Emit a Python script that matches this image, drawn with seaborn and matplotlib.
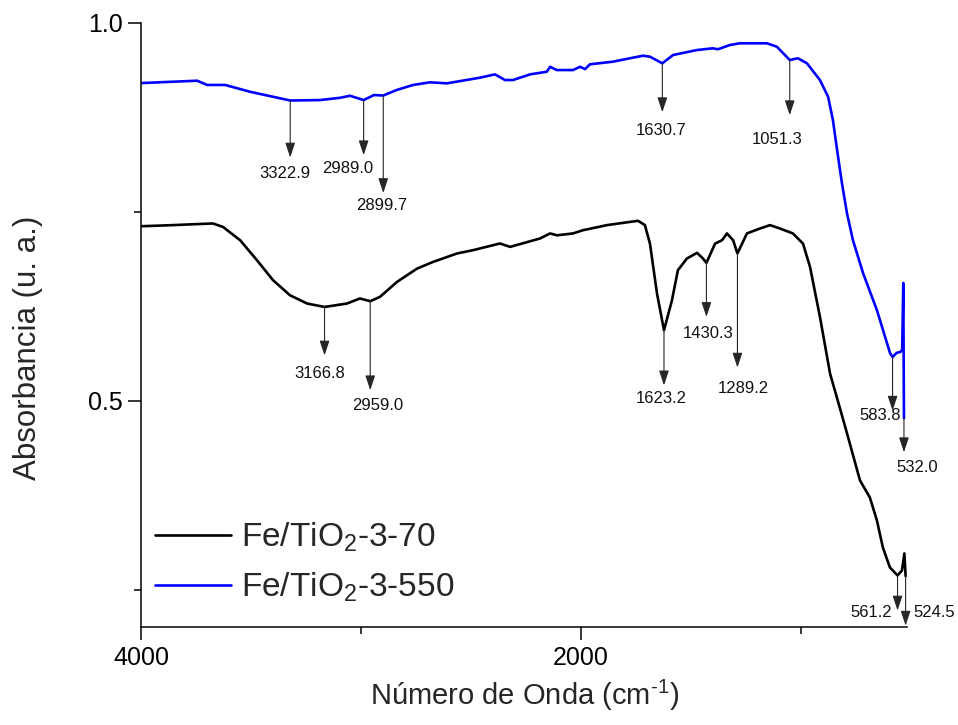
import numpy as np
import pandas as pd
import matplotlib
matplotlib.use("Agg")
import matplotlib.pyplot as plt
from matplotlib.ticker import FixedLocator
import seaborn as sns

# FTIR spectra (wavenumber in cm^-1, absorbance in a.u.)
wn_70 = [4000, 3856, 3674, 3628, 3551, 3474, 3401, 3324, 3246, 3166.8, 3065, 3006,
         2959, 2915, 2837, 2746, 2673, 2564, 2492, 2369, 2323, 2187, 2141, 2110,
         2037, 1991, 1882, 1809, 1741, 1710, 1687, 1655, 1623.2, 1587, 1560, 1519,
         1473, 1446, 1430.3, 1391, 1359, 1337, 1309, 1289.2, 1246, 1187, 1141, 1096,
         1037, 991, 959, 914, 868, 823, 791, 732, 687, 655, 628, 596, 561.2, 541,
         530, 524.5]
abs_70 = [0.731, 0.7325, 0.7347, 0.730, 0.7126, 0.686, 0.6596, 0.6397, 0.6287, 0.6242,
          0.6287, 0.6354, 0.6318, 0.6375, 0.6574, 0.675, 0.6838, 0.695, 0.6993, 0.7082,
          0.7037, 0.7148, 0.7215, 0.719, 0.7215, 0.7258, 0.7325, 0.7355, 0.7382, 0.7325,
          0.708, 0.642, 0.5934, 0.633, 0.6728, 0.6883, 0.6958, 0.6883, 0.6825, 0.708,
          0.7126, 0.7215, 0.7126, 0.695, 0.7215, 0.728, 0.7325, 0.728, 0.7215, 0.708,
          0.677, 0.611, 0.536, 0.49, 0.457, 0.3947, 0.372, 0.3417, 0.306, 0.2795,
          0.2689, 0.2755, 0.298, 0.268]

wn_550 = [4000, 3746, 3701, 3619, 3506, 3356, 3322.9, 3187, 3096, 3051, 2989.0, 2942,
          2899.7, 2839, 2764, 2687, 2611, 2460, 2392, 2346, 2310, 2232, 2156, 2141,
          2111, 2037, 2005, 1982, 1960, 1855, 1778, 1719, 1687, 1630.7, 1582, 1473,
          1401, 1378, 1323, 1278, 1155, 1110, 1051.3, 1014, 973, 914, 877, 855, 836,
          814, 791, 764, 718, 655, 595, 583.8, 565, 548, 540, 535, 532.0]
abs_550 = [0.9205, 0.9236, 0.918, 0.918, 0.909, 0.8995, 0.8974, 0.898, 0.901, 0.9037,
           0.898, 0.9046, 0.9040, 0.9113, 0.918, 0.9215, 0.9201, 0.9276, 0.932, 0.9245,
           0.9245, 0.932, 0.9355, 0.942, 0.9377, 0.9377, 0.942, 0.939, 0.9453, 0.9488,
           0.9533, 0.9567, 0.9554, 0.9466, 0.9576, 0.9642, 0.9665, 0.9652, 0.9709, 0.9731,
           0.9731, 0.9686, 0.951, 0.9533, 0.9466, 0.9245, 0.9024, 0.8715, 0.8318, 0.788,
           0.748, 0.7126, 0.669, 0.620, 0.5629, 0.558, 0.5635, 0.5646, 0.568, 0.656, 0.477]

series_names = ["Fe/TiO$_2$-3-70", "Fe/TiO$_2$-3-550"]
series_colors = ["#000000", "#0000FF"]

# Band positions marked on each spectrum
peaks_70 = [3166.8, 2959.0, 1623.2, 1430.3, 1289.2, 561.2, 524.5]
peaks_550 = [3322.9, 2989.0, 2899.7, 1630.7, 1051.3, 583.8, 532.0]

# Arrow tip height, label anchor (x, y) and horizontal alignment for each band
layout_70 = [(0.560, 3187, 0.536, "center"), (0.514, 2923, 0.494, "center"),
             (0.5205, 1637, 0.503, "center"), (0.611, 1423, 0.589, "center"),
             (0.544, 1264, 0.516, "center"), (0.2225, 586, 0.220, "right"),
             (0.2025, 491, 0.220, "left")]
layout_550 = [(0.822, 3349, 0.801, "center"), (0.825, 3060, 0.808, "center"),
              (0.775, 2905, 0.759, "center"), (0.882, 1638, 0.858, "center"),
              (0.878, 1109, 0.846, "center"), (0.487, 640, 0.481, "center"),
              (0.432, 474, 0.412, "center")]

df = pd.concat([
    pd.DataFrame({"wn": wn_70, "A": abs_70, "amostra": series_names[0]}),
    pd.DataFrame({"wn": wn_550, "A": abs_550, "amostra": series_names[1]}),
], ignore_index=True)

sns.set_theme(style="ticks")
plt.rcParams["font.family"] = ["Liberation Sans", "DejaVu Sans"]
plt.rcParams["mathtext.fontset"] = "custom"
plt.rcParams["mathtext.rm"] = "Liberation Sans"
plt.rcParams["mathtext.default"] = "regular"

fig = plt.figure(figsize=(9.58, 7.25), dpi=100)
ax = fig.add_axes([0.1475, 0.1345, 0.7993, 0.8338])

sns.lineplot(data=df, x="wn", y="A", hue="amostra", hue_order=series_names,
             palette=series_colors, estimator=None, sort=True, linewidth=1.9,
             ax=ax)

ax.set_xlim(4000, 518)
ax.set_ylim(0.2, 1.0)

ax.xaxis.set_major_locator(FixedLocator([4000, 2000]))
ax.xaxis.set_minor_locator(FixedLocator([3000, 1000]))
ax.yaxis.set_major_locator(FixedLocator([0.5, 1.0]))
ax.yaxis.set_minor_locator(FixedLocator([0.25, 0.75]))
ax.set_yticklabels(["0.5", "1.0"])
ax.set_xticklabels(["4000", "2000"])

ax.tick_params(which="major", direction="out", length=9.5, width=1.1,
               labelsize=18, pad=3.5, color="black", labelcolor="black")
ax.tick_params(which="minor", direction="out", length=4.8, width=1.1,
               color="black")
for side in ("left", "bottom"):
    ax.spines[side].set_linewidth(1.1)
    ax.spines[side].set_color("black")
sns.despine(ax=ax, top=True, right=True)

ax.set_xlabel(r"Número de Onda (cm$^{\text{-}1}$)", fontsize=21, labelpad=6)
ax.set_ylabel("Absorbancia (u. a.)", fontsize=22.5)
ax.yaxis.set_label_coords(-0.128, 0.462)


def mark_bands(wn, ab, peaks, layout):
    order = np.argsort(wn)
    xs = np.asarray(wn)[order]
    ys = np.asarray(ab)[order]
    for p, (tip, lx, ly, ha) in zip(peaks, layout):
        y0 = np.interp(p, xs, ys)
        ax.annotate("", xy=(p, tip), xytext=(p, y0),
                    arrowprops=dict(arrowstyle="-|>,head_length=0.9,head_width=0.3",
                                    mutation_scale=10, color="0.15", lw=0.8,
                                    shrinkA=0, shrinkB=0),
                    annotation_clip=False)
        ax.text(lx, ly, f"{p:.1f}", ha=ha, va="center", fontsize=12,
                color="#111111", clip_on=False)


mark_bands(wn_70, abs_70, peaks_70, layout_70)
mark_bands(wn_550, abs_550, peaks_550, layout_550)

leg = ax.legend(loc="lower left", bbox_to_anchor=(0.0, 0.017), frameon=False,
                fontsize=24, handlelength=2.3, handletextpad=0.3,
                labelspacing=0.49, borderaxespad=0.0, borderpad=0.4)
for line in leg.get_lines():
    line.set_linewidth(1.9)

fig.savefig("out.png", dpi=100)
